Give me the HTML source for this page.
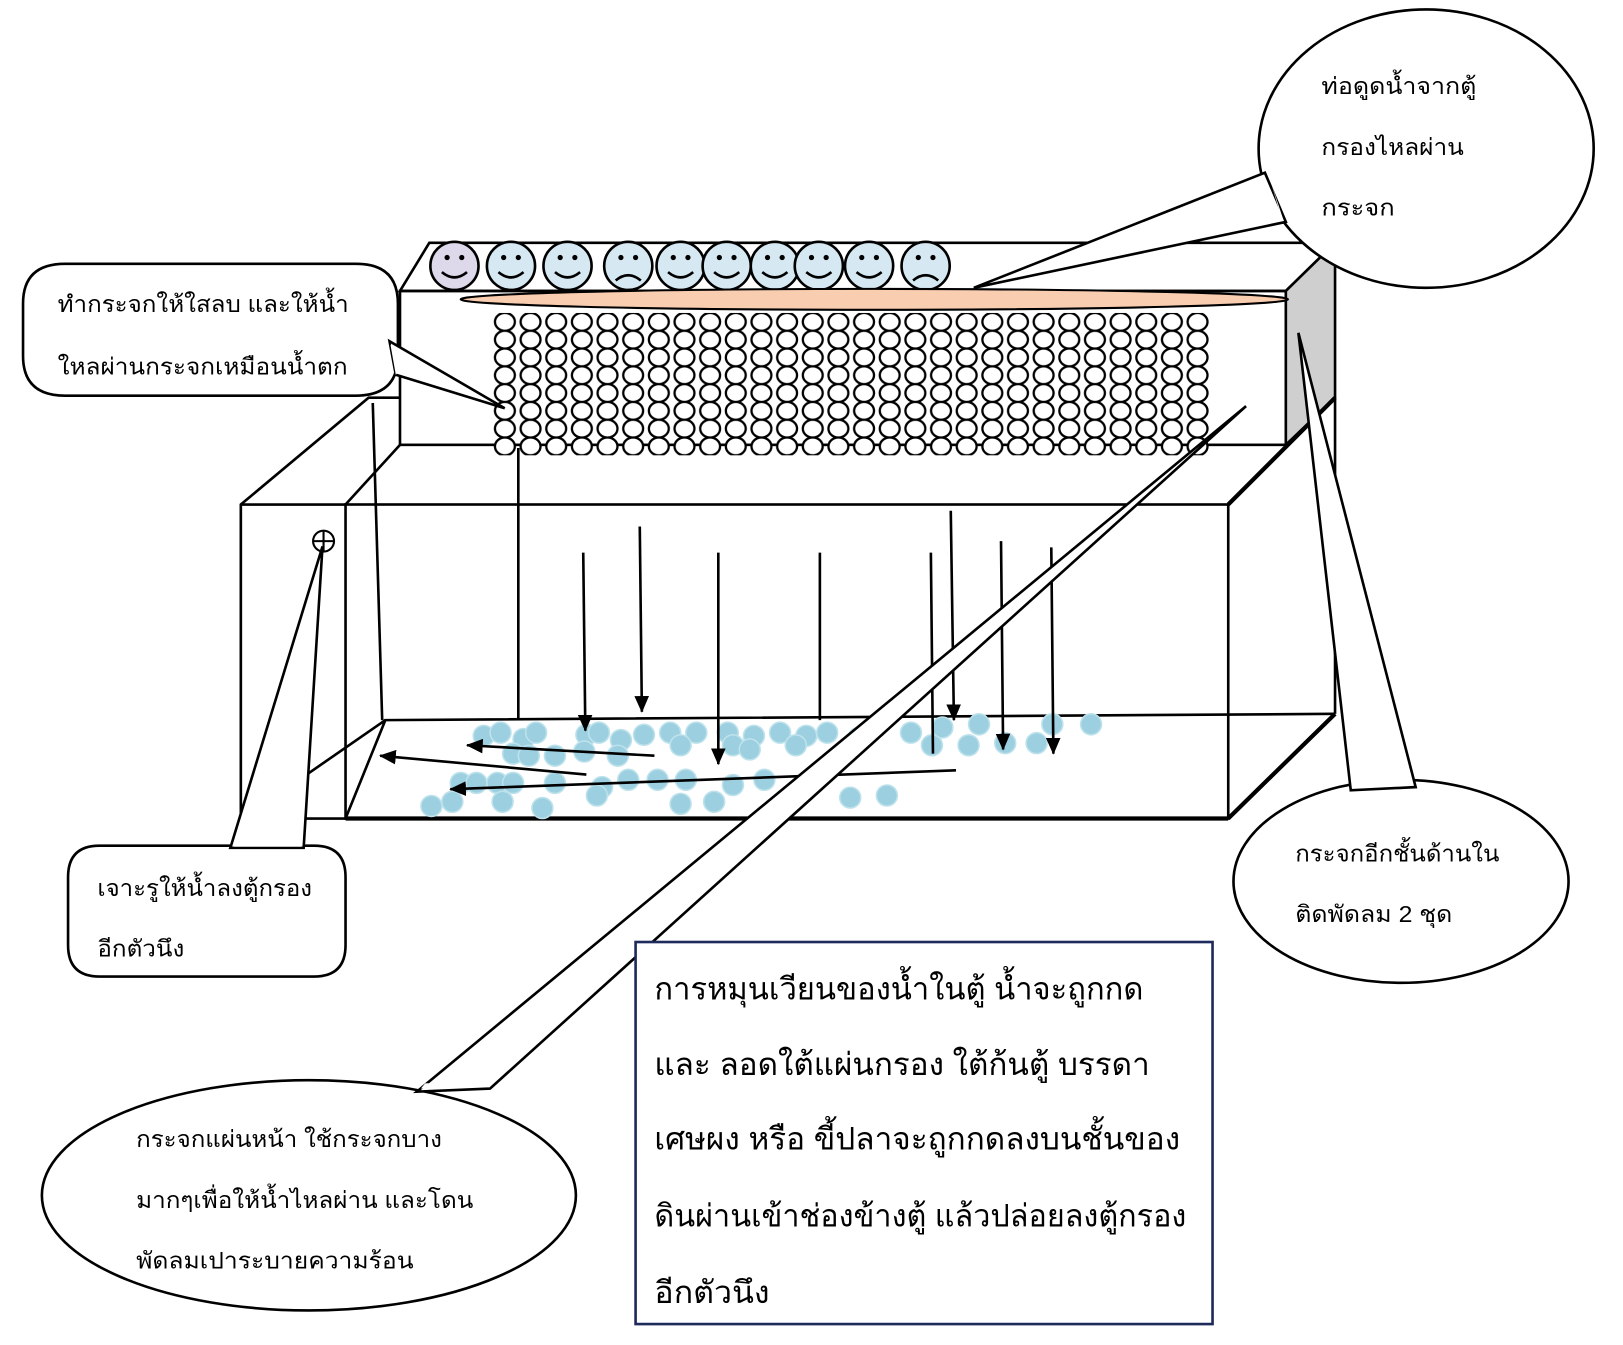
<!DOCTYPE html>
<html><head><meta charset="utf-8"><style>
html,body{margin:0;padding:0;background:#fff;width:1623px;height:1345px;overflow:hidden}
svg{display:block}
text{font-family:"Liberation Sans","DejaVu Sans",sans-serif;fill:#000}
</style></head><body>
<svg width="1623" height="1345" viewBox="0 0 1550 1285" preserveAspectRatio="none" xmlns="http://www.w3.org/2000/svg">
<defs>
<pattern id="bub" x="470" y="299" width="24.5" height="17" patternUnits="userSpaceOnUse">
<ellipse cx="12.2" cy="8.5" rx="9.5" ry="8.5" fill="#fff" stroke="#000" stroke-width="2.2"/>
</pattern>
<marker id="ah2" markerWidth="16" markerHeight="14" refX="15" refY="7" orient="auto" markerUnits="userSpaceOnUse">
<path d="M0,0 L16,7 L0,14 z" fill="#000"/></marker>
</defs>
<g fill="none" stroke="#000" stroke-width="2.5">
<polyline points="230,782 230,482 352,380 382,380"/>
<line x1="230" y1="482" x2="330" y2="482"/>
<line x1="230" y1="782" x2="330" y2="782"/>
<line x1="290" y1="742" x2="368" y2="688"/>
<path d="M382,278 L410,232 L1275,232 L1228,278 Z"/>
<rect x="382" y="278" width="846" height="147"/>
<path d="M1228,278 L1275,232 L1275,380 L1228,425 Z" fill="#cfcfcf"/>
<line x1="330" y1="482" x2="382" y2="425"/>
<line x1="1173" y1="482" x2="1275" y2="380" stroke-width="4"/>
<rect x="330" y="482" width="843" height="300"/>
<line x1="1173" y1="782" x2="1275" y2="682" stroke-width="4"/>
<line x1="1275" y1="380" x2="1275" y2="682"/>
<polyline points="330,782 368,688 1275,682"/>
<line x1="330" y1="782" x2="1173" y2="782" stroke-width="4"/>
</g>
<g stroke="#000" stroke-width="2.5">
<circle cx="434" cy="254" r="23" fill="#ddd8ea"/>
<circle cx="488" cy="254" r="23" fill="#d6e9f2"/>
<circle cx="542" cy="254" r="23" fill="#d6e9f2"/>
<circle cx="600" cy="254" r="23" fill="#d6e9f2"/>
<circle cx="650" cy="254" r="23" fill="#d6e9f2"/>
<circle cx="694" cy="254" r="23" fill="#d6e9f2"/>
<circle cx="740" cy="254" r="23" fill="#d6e9f2"/>
<circle cx="782" cy="254" r="23" fill="#d6e9f2"/>
<circle cx="830" cy="254" r="23" fill="#d6e9f2"/>
<circle cx="884" cy="254" r="23" fill="#d6e9f2"/>
</g>
<g fill="#000">
<circle cx="427" cy="246" r="2.5"/><circle cx="441" cy="246" r="2.5"/>
<circle cx="481" cy="246" r="2.5"/><circle cx="495" cy="246" r="2.5"/>
<circle cx="535" cy="246" r="2.5"/><circle cx="549" cy="246" r="2.5"/>
<circle cx="593" cy="246" r="2.5"/><circle cx="607" cy="246" r="2.5"/>
<circle cx="643" cy="246" r="2.5"/><circle cx="657" cy="246" r="2.5"/>
<circle cx="687" cy="246" r="2.5"/><circle cx="701" cy="246" r="2.5"/>
<circle cx="733" cy="246" r="2.5"/><circle cx="747" cy="246" r="2.5"/>
<circle cx="775" cy="246" r="2.5"/><circle cx="789" cy="246" r="2.5"/>
<circle cx="823" cy="246" r="2.5"/><circle cx="837" cy="246" r="2.5"/>
<circle cx="877" cy="246" r="2.5"/><circle cx="891" cy="246" r="2.5"/>
</g>
<g fill="none" stroke="#000" stroke-width="2.5">
<path d="M422,260 Q434,270 446,260"/><path d="M476,260 Q488,270 500,260"/><path d="M530,260 Q542,270 554,260"/>
<path d="M588,268 Q600,258 612,268"/><path d="M638,260 Q650,270 662,260"/><path d="M682,260 Q694,270 706,260"/>
<path d="M728,260 Q740,270 752,260"/><path d="M770,260 Q782,270 794,260"/><path d="M818,260 Q830,270 842,260"/>
<path d="M872,268 Q884,258 896,268"/>
</g>
<ellipse cx="835" cy="286" rx="395" ry="10" fill="#f9cdb0" stroke="#000" stroke-width="2"/>
<rect x="470" y="299" width="686" height="136" fill="url(#bub)"/>
<g fill="#9ccfdf" stroke="#bde2ec" stroke-width="1.5">
<circle cx="462" cy="703" r="10"/><circle cx="478" cy="700" r="10"/><circle cx="500" cy="706" r="10"/><circle cx="512" cy="700" r="10"/>
<circle cx="560" cy="702" r="10"/><circle cx="572" cy="700" r="10"/><circle cx="593" cy="707" r="10"/><circle cx="615" cy="702" r="10"/>
<circle cx="640" cy="700" r="10"/><circle cx="665" cy="700" r="10"/><circle cx="695" cy="700" r="10"/><circle cx="720" cy="703" r="10"/>
<circle cx="745" cy="700" r="10"/><circle cx="770" cy="703" r="10"/><circle cx="790" cy="700" r="10"/><circle cx="820" cy="705" r="10"/>
<circle cx="870" cy="700" r="10"/><circle cx="900" cy="695" r="10"/><circle cx="935" cy="692" r="10"/><circle cx="925" cy="712" r="10"/>
<circle cx="960" cy="710" r="10"/><circle cx="990" cy="710" r="10"/><circle cx="1005" cy="692" r="10"/><circle cx="1042" cy="692" r="10"/>
<circle cx="490" cy="720" r="10"/><circle cx="505" cy="722" r="10"/><circle cx="530" cy="722" r="10"/><circle cx="558" cy="718" r="10"/>
<circle cx="590" cy="722" r="10"/><circle cx="650" cy="712" r="10"/><circle cx="700" cy="712" r="10"/><circle cx="716" cy="716" r="10"/>
<circle cx="760" cy="712" r="10"/><circle cx="890" cy="712" r="10"/>
<circle cx="440" cy="748" r="10"/><circle cx="455" cy="748" r="10"/><circle cx="475" cy="748" r="10"/><circle cx="490" cy="748" r="10"/>
<circle cx="530" cy="748" r="10"/><circle cx="575" cy="752" r="10"/><circle cx="600" cy="745" r="10"/><circle cx="628" cy="745" r="10"/>
<circle cx="655" cy="745" r="10"/><circle cx="700" cy="750" r="10"/><circle cx="730" cy="745" r="10"/>
<circle cx="412" cy="770" r="10"/><circle cx="432" cy="766" r="10"/><circle cx="480" cy="766" r="10"/><circle cx="518" cy="772" r="10"/>
<circle cx="570" cy="760" r="10"/><circle cx="650" cy="768" r="10"/><circle cx="682" cy="766" r="10"/><circle cx="812" cy="762" r="10"/><circle cx="847" cy="760" r="10"/>
</g>
<g stroke="#000" stroke-width="2.5" fill="none">
<line x1="356" y1="385" x2="365" y2="688"/>
<line x1="495" y1="428" x2="495" y2="688"/>
<line x1="557" y1="528" x2="559" y2="698" marker-end="url(#ah2)"/>
<line x1="611" y1="503" x2="613" y2="680" marker-end="url(#ah2)"/>
<line x1="686" y1="528" x2="686" y2="730" marker-end="url(#ah2)"/>
<line x1="783" y1="528" x2="783" y2="688"/>
<line x1="889" y1="528" x2="891" y2="720"/>
<line x1="908" y1="488" x2="911" y2="688" marker-end="url(#ah2)"/>
<line x1="956" y1="517" x2="958" y2="716" marker-end="url(#ah2)"/>
<line x1="1004" y1="523" x2="1006" y2="720" marker-end="url(#ah2)"/>
<line x1="625" y1="722" x2="446" y2="712" marker-end="url(#ah2)"/>
<line x1="560" y1="740" x2="363" y2="722" marker-end="url(#ah2)"/>
<line x1="913" y1="736" x2="430" y2="754" marker-end="url(#ah2)"/>
</g>
<circle cx="309" cy="517" r="10" fill="#fff" stroke="#000" stroke-width="2"/>
<line x1="299" y1="517" x2="319" y2="517" stroke="#000" stroke-width="2"/>
<line x1="309" y1="507" x2="309" y2="527" stroke="#000" stroke-width="2"/>
<g fill="#fff" stroke="#000" stroke-width="2.5">
<path d="M62,252 L340,252 Q380,252 380,290 L380,340 Q380,378 340,378 L62,378 Q22,378 22,340 L22,290 Q22,252 62,252 Z"/>
<polygon points="372,326 482,390 378,358" />
<ellipse cx="1362" cy="142" rx="160" ry="133"/>
<polygon points="1208,165 930,275 1228,212"/>
<ellipse cx="1338" cy="842" rx="160" ry="97"/>
<polygon points="1290,755 1240,318 1352,752"/>
<path d="M95,808 L300,808 Q330,808 330,838 L330,903 Q330,933 300,933 L95,933 Q65,933 65,903 L65,838 Q65,808 95,808 Z"/>
<polygon points="220,810 308,522 290,810"/>
<ellipse cx="295" cy="1142" rx="255" ry="110"/>
<polygon points="398,1043 1190,388 468,1040"/>
</g>
<g fill="#fff">
<polygon points="374,328 380,356 378,358 373,330"/>
<polygon points="1211,166 1226,211 1224,209 1212,168"/>
<polygon points="1292,752 1350,750 1349,748 1293,748"/>
<polygon points="223,809 288,809 287,806 224,806"/>
<polygon points="402,1040 466,1037 464,1033 406,1035"/>
</g>
<rect x="607" y="900" width="551" height="365" fill="#fff" stroke="#1f2a5c" stroke-width="2.5"/>
<g font-size="22" lengthAdjust="spacingAndGlyphs">
<text x="55" y="298" textLength="278" lengthAdjust="spacingAndGlyphs">ทำกระจกให้ใสลบ และให้น้ำ</text>
<text x="55" y="358" textLength="277" lengthAdjust="spacingAndGlyphs">ใหลผ่านกระจกเหมือนน้ำตก</text>
<text x="1262" y="90" textLength="148" lengthAdjust="spacingAndGlyphs">ท่อดูดน้ำจากตู้</text>
<text x="1262" y="148" textLength="136" lengthAdjust="spacingAndGlyphs">กรองไหลผ่าน</text>
<text x="1262" y="206" textLength="70" lengthAdjust="spacingAndGlyphs">กระจก</text>
<text x="1237" y="823" textLength="195" lengthAdjust="spacingAndGlyphs">กระจกอีกชั้นด้านใน</text>
<text x="1237" y="881" textLength="150" lengthAdjust="spacingAndGlyphs">ติดพัดลม 2 ชุด</text>
<text x="93" y="856" textLength="205" lengthAdjust="spacingAndGlyphs">เจาะรูให้น้ำลงตู้กรอง</text>
<text x="93" y="914" textLength="83" lengthAdjust="spacingAndGlyphs">อีกตัวนึง</text>
<text x="130" y="1096" textLength="292" lengthAdjust="spacingAndGlyphs">กระจกแผ่นหน้า ใช้กระจกบาง</text>
<text x="130" y="1154" textLength="322" lengthAdjust="spacingAndGlyphs">มากๆเพื่อให้น้ำไหลผ่าน และโดน</text>
<text x="130" y="1212" textLength="265" lengthAdjust="spacingAndGlyphs">พัดลมเปาระบายความร้อน</text>
</g>
<g font-size="30" font-family="Liberation Serif, serif">
<text x="625" y="955" textLength="467" lengthAdjust="spacingAndGlyphs">การหมุนเวียนของน้ำในตู้ น้ำจะถูกกด</text>
<text x="625" y="1027" textLength="473" lengthAdjust="spacingAndGlyphs">และ ลอดใต้แผ่นกรอง ใต้ก้นตู้ บรรดา</text>
<text x="625" y="1098" textLength="502" lengthAdjust="spacingAndGlyphs">เศษผง หรือ ขี้ปลาจะถูกกดลงบนชั้นของ</text>
<text x="625" y="1172" textLength="508" lengthAdjust="spacingAndGlyphs">ดินผ่านเข้าช่องข้างตู้ แล้วปล่อยลงตู้กรอง</text>
<text x="625" y="1245" textLength="110" lengthAdjust="spacingAndGlyphs">อีกตัวนึง</text>
</g>
</svg>
</body></html>
